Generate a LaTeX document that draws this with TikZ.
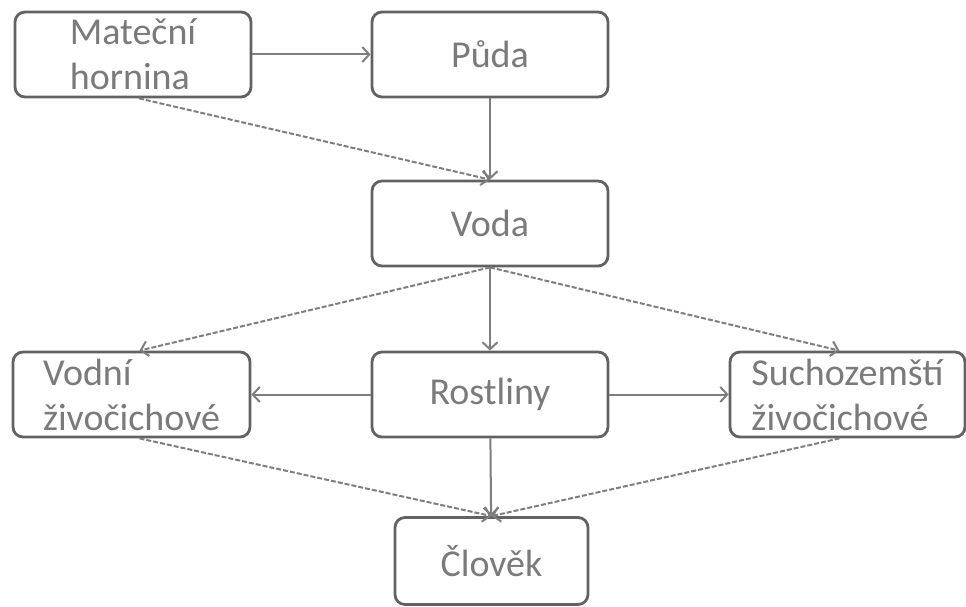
\documentclass[tikz,border=0pt]{standalone}
\usepackage{fontspec}
\setmainfont{Carlito}
\usetikzlibrary{arrows.meta}

\definecolor{boxgray}{HTML}{626262}
\definecolor{textgray}{HTML}{7A7A7A}
\definecolor{linegray}{HTML}{7E7E7E}

\begin{document}
\begin{tikzpicture}[x=1pt,y=1pt,
    box/.style={draw=boxgray, line width=2.8pt, rounded corners=10pt,
        minimum width=236pt, minimum height=85pt, inner sep=0pt,
        align=left, text=textgray, font=\fontsize{38}{45}\selectfont},
    link/.style={draw=linegray, line width=2pt,
        -{Straight Barb[length=7pt,width=15pt]}},
    dlink/.style={link, dash pattern=on 5pt off 2pt}]

    \useasboundingbox (0,0) rectangle (966,606);

    %draw boxes:
    \node[box] (mat) at (133,551.5) {Mateční\\hornina};
    \node[box] (puda) at (490,551.5) {Půda};
    \node[box] (voda) at (490,382.5) {Voda};
    \node[box] (rost) at (490,211.5) {Rostliny};
    \node[box, minimum width=237pt] (vodni) at (131.5,211.5) {Vodní\\živočichové};
    \node[box, minimum width=235pt] (such) at (847.5,211.5) {Suchozemští\\živočichové};
    \node[box, minimum width=193pt, minimum height=87pt] (clov) at (491.5,45) {Člověk};

    %draw arrows:
    \draw[link] (mat) -- (puda);
    \draw[link] (puda) -- (voda);
    \draw[link] (voda) -- (rost);
    \draw[link] (rost) -- (vodni);
    \draw[link] (rost) -- (such);
    \draw[link] (rost) -- (clov);

    %dashed ones:
    \draw[dlink] ([xshift=6pt]mat.south) -- (voda.north);
    \draw[dlink] (voda.south) -- ([xshift=8pt]vodni.north);
    \draw[dlink] (voda.south) -- ([xshift=-8pt]such.north);
    \draw[dlink] ([xshift=8pt]vodni.south) -- (clov.north);
    \draw[dlink] ([xshift=-8pt]such.south) -- (clov.north);

\end{tikzpicture}
\end{document}
